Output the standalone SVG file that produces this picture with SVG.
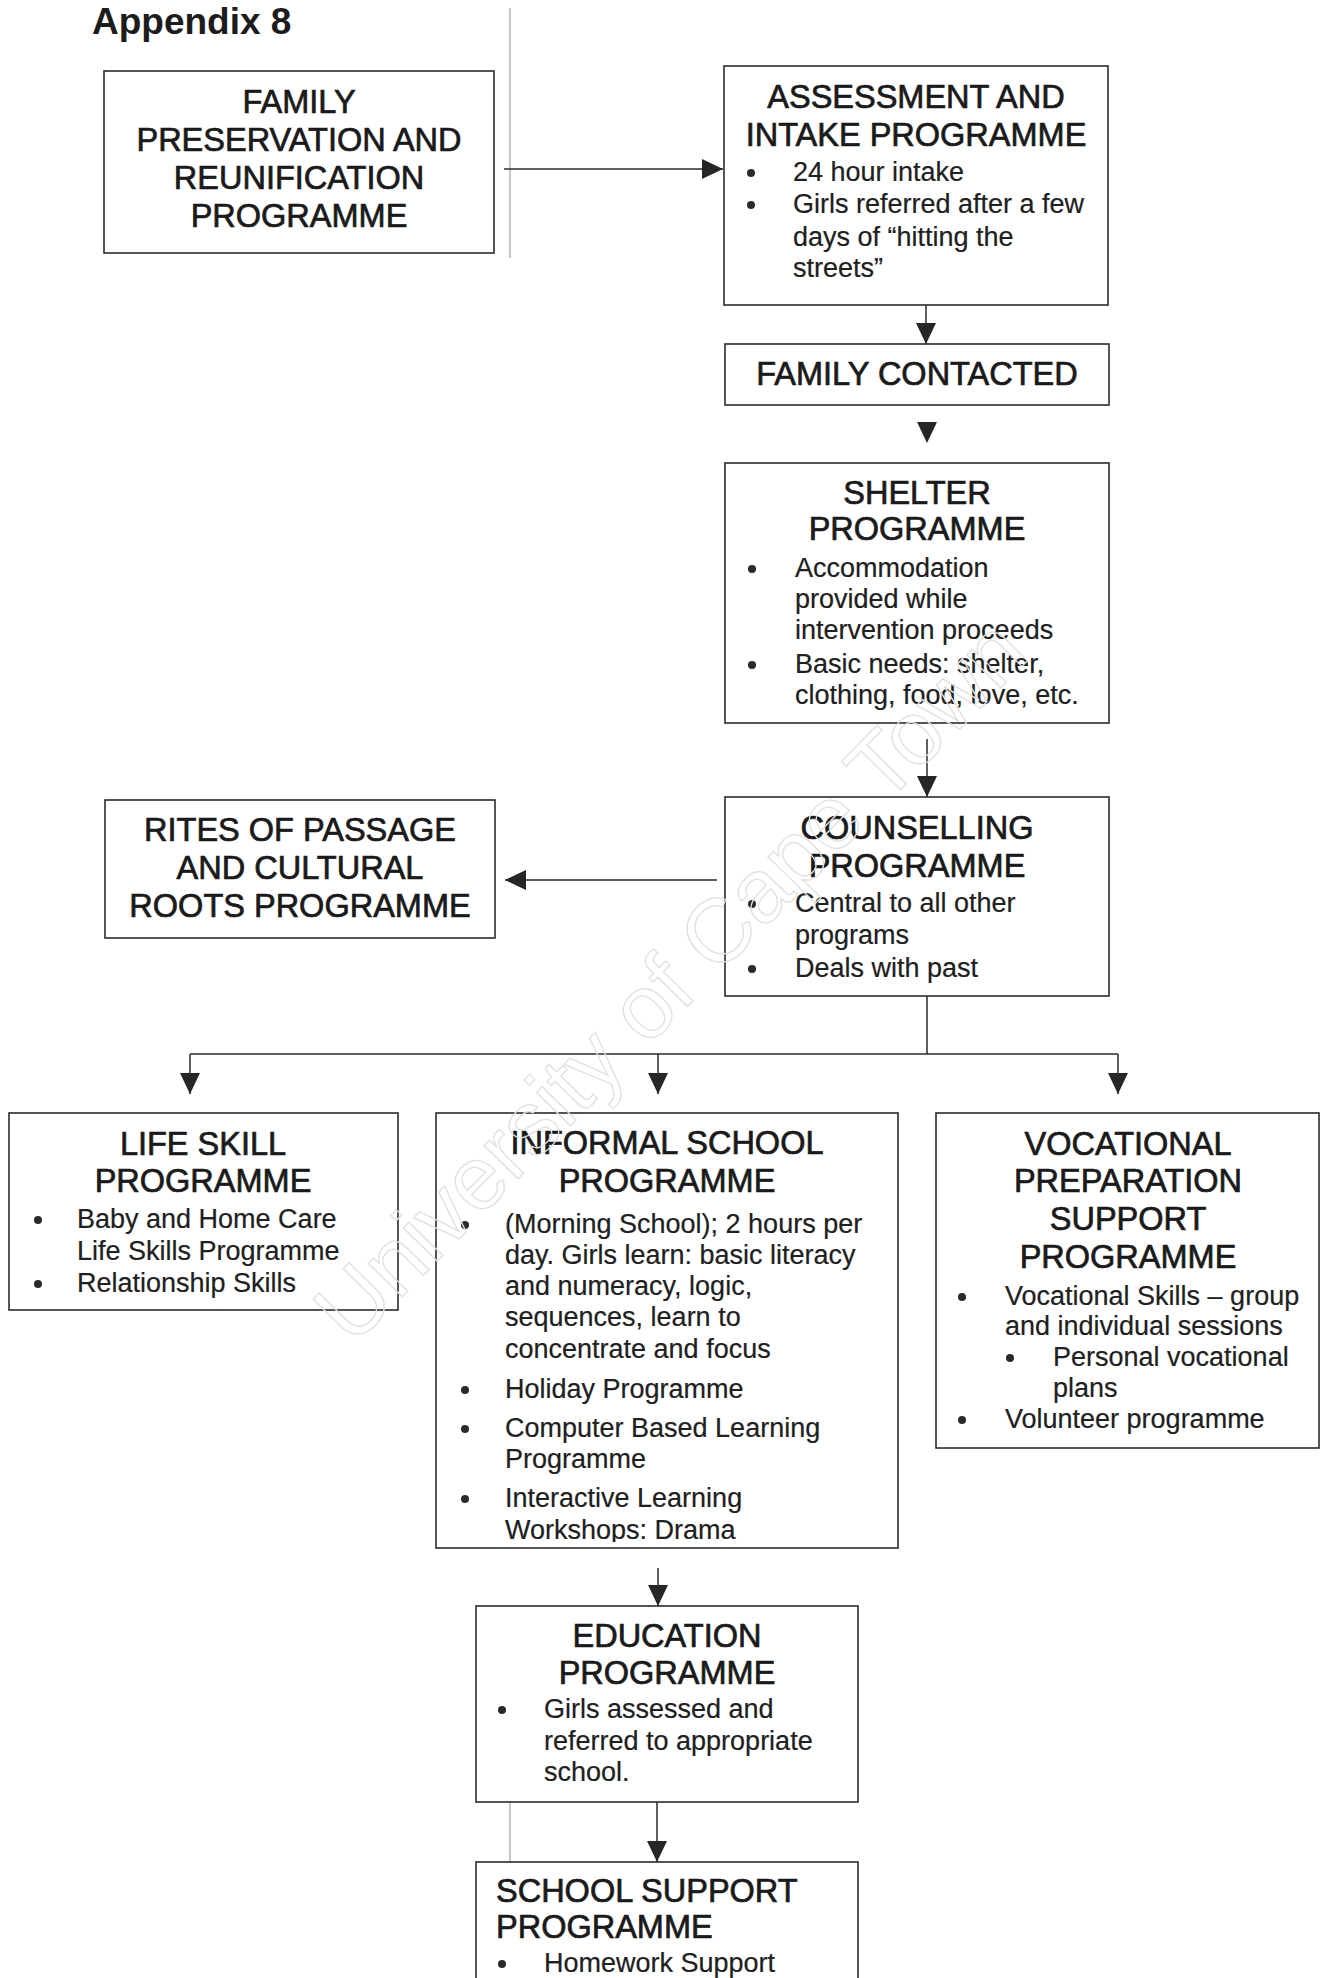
<svg xmlns="http://www.w3.org/2000/svg" width="1322" height="1978" viewBox="0 0 1322 1978">
  <defs>
    <style>
      .box { fill: #ffffff; stroke: #2b2b2b; stroke-width: 1.6; }
      .h { font-family: "Liberation Sans", Arial, sans-serif; font-size: 32.5px; fill: #1a1a1a; stroke: #1a1a1a; stroke-width: 0.7; text-anchor: middle; }
      .hl { text-anchor: start; }
      .t { font-family: "Liberation Sans", Arial, sans-serif; font-size: 27px; fill: #202020; stroke: #202020; stroke-width: 0.2; }
      .dot { fill: #2a2a2a; }
      .conn { stroke: #2b2b2b; stroke-width: 1.5; fill: none; }
      .faint { stroke: #8c8c8c; stroke-width: 1; fill: none; }
      .title { font-family: "Liberation Sans", Arial, sans-serif; font-size: 37px; font-weight: bold; fill: #1c1c1c; }
      .mark { font-family: "Liberation Sans", Arial, sans-serif; font-size: 90px; fill: none; stroke: #e0e0e0; stroke-width: 1.3; text-anchor: middle; }
    </style>
    <marker id="ah" viewBox="0 0 21 20" refX="21" refY="10" markerWidth="21" markerHeight="20" markerUnits="userSpaceOnUse" orient="auto">
      <path d="M0,0 L21,10 L0,20 Z" fill="#262626"/>
    </marker>
    <clipPath id="informal-clip">
      <rect x="436" y="1113" width="462" height="429"/>
    </clipPath>
  </defs>

  <rect width="1322" height="1978" fill="#ffffff"/>

  <text class="title" x="92" y="34">Appendix 8</text>

  <!-- thin stray rules of the page -->
  <g id="page-rules">
    <line class="faint" x1="510" y1="8" x2="510" y2="258"/>
    <line class="faint" x1="510" y1="1795" x2="510" y2="1930"/>
    <line class="faint" x1="496" y1="1930" x2="797" y2="1930"/>
  </g>

  <g id="connectors">
    <line class="conn" x1="504" y1="169" x2="723" y2="169" marker-end="url(#ah)"/>
    <line class="conn" x1="926" y1="305" x2="926" y2="344" marker-end="url(#ah)"/>
    <path d="M917,422 L937,422 L927,443 Z" fill="#262626"/>
    <line class="conn" x1="927" y1="739" x2="927" y2="797" marker-end="url(#ah)"/>
    <line class="conn" x1="717" y1="880" x2="505" y2="880" marker-end="url(#ah)"/>
    <line class="conn" x1="927" y1="996" x2="927" y2="1054"/>
    <line class="conn" x1="190" y1="1054" x2="1118" y2="1054"/>
    <line class="conn" x1="190" y1="1054" x2="190" y2="1094" marker-end="url(#ah)"/>
    <line class="conn" x1="658" y1="1054" x2="658" y2="1094" marker-end="url(#ah)"/>
    <line class="conn" x1="1118" y1="1054" x2="1118" y2="1094" marker-end="url(#ah)"/>
    <line class="conn" x1="658" y1="1568" x2="658" y2="1606" marker-end="url(#ah)"/>
    <line class="conn" x1="657" y1="1802" x2="657" y2="1862" marker-end="url(#ah)"/>
  </g>

  <g id="family-preservation">
    <rect class="box" x="104" y="71" width="390" height="182"/>
    <text class="h" x="299" y="113">FAMILY</text>
    <text class="h" x="299" y="151">PRESERVATION AND</text>
    <text class="h" x="299" y="189">REUNIFICATION</text>
    <text class="h" x="299" y="227">PROGRAMME</text>
  </g>

  <g id="assessment-intake">
    <rect class="box" x="724" y="66" width="384" height="239"/>
    <text class="h" x="916" y="108">ASSESSMENT AND</text>
    <text class="h" x="916" y="146">INTAKE PROGRAMME</text>
    <circle class="dot" cx="751" cy="173" r="4"/>
    <text class="t" x="793" y="181">24 hour intake</text>
    <circle class="dot" cx="751" cy="205" r="4"/>
    <text class="t" x="793" y="213">Girls referred after a few</text>
    <text class="t" x="793" y="246">days of “hitting the</text>
    <text class="t" x="793" y="277">streets”</text>
  </g>

  <g id="family-contacted">
    <rect class="box" x="725" y="344" width="384" height="61"/>
    <text class="h" x="917" y="385">FAMILY CONTACTED</text>
  </g>

  <g id="shelter">
    <rect class="box" x="725" y="463" width="384" height="260"/>
    <text class="h" x="917" y="504">SHELTER</text>
    <text class="h" x="917" y="540">PROGRAMME</text>
    <circle class="dot" cx="752" cy="569" r="4"/>
    <text class="t" x="795" y="577">Accommodation</text>
    <text class="t" x="795" y="608">provided while</text>
    <text class="t" x="795" y="639">intervention proceeds</text>
    <circle class="dot" cx="752" cy="665" r="4"/>
    <text class="t" x="795" y="673">Basic needs: shelter,</text>
    <text class="t" x="795" y="704">clothing, food, love, etc.</text>
  </g>

  <g id="counselling">
    <rect class="box" x="725" y="797" width="384" height="199"/>
    <text class="h" x="917" y="839">COUNSELLING</text>
    <text class="h" x="917" y="877">PROGRAMME</text>
    <circle class="dot" cx="752" cy="904" r="4"/>
    <text class="t" x="795" y="912">Central to all other</text>
    <text class="t" x="795" y="944">programs</text>
    <circle class="dot" cx="752" cy="969" r="4"/>
    <text class="t" x="795" y="977">Deals with past</text>
  </g>

  <g id="rites-of-passage">
    <rect class="box" x="105" y="800" width="390" height="138"/>
    <text class="h" x="300" y="841">RITES OF PASSAGE</text>
    <text class="h" x="300" y="879">AND CULTURAL</text>
    <text class="h" x="300" y="917">ROOTS PROGRAMME</text>
  </g>

  <g id="life-skill">
    <rect class="box" x="9" y="1113" width="389" height="197"/>
    <text class="h" x="203" y="1155">LIFE SKILL</text>
    <text class="h" x="203" y="1192">PROGRAMME</text>
    <circle class="dot" cx="38" cy="1220" r="4"/>
    <text class="t" x="77" y="1228">Baby and Home Care</text>
    <text class="t" x="77" y="1260">Life Skills Programme</text>
    <circle class="dot" cx="38" cy="1284" r="4"/>
    <text class="t" x="77" y="1292">Relationship Skills</text>
  </g>

  <g id="informal-school">
    <rect class="box" x="436" y="1113" width="462" height="435"/>
    <text class="h" x="667" y="1154">INFORMAL SCHOOL</text>
    <text class="h" x="667" y="1192">PROGRAMME</text>
    <circle class="dot" cx="465" cy="1225" r="4"/>
    <text class="t" x="505" y="1233">(Morning School); 2 hours per</text>
    <text class="t" x="505" y="1264">day. Girls learn: basic literacy</text>
    <text class="t" x="505" y="1295">and numeracy, logic,</text>
    <text class="t" x="505" y="1326">sequences, learn to</text>
    <text class="t" x="505" y="1358">concentrate and focus</text>
    <circle class="dot" cx="465" cy="1390" r="4"/>
    <text class="t" x="505" y="1398">Holiday Programme</text>
    <circle class="dot" cx="465" cy="1429" r="4"/>
    <text class="t" x="505" y="1437">Computer Based Learning</text>
    <text class="t" x="505" y="1468">Programme</text>
    <circle class="dot" cx="465" cy="1499" r="4"/>
    <text class="t" x="505" y="1507">Interactive Learning</text>
    <text class="t" x="505" y="1539" clip-path="url(#informal-clip)">Workshops: Drama</text>
  </g>

  <g id="vocational-preparation">
    <rect class="box" x="936" y="1113" width="383" height="335"/>
    <text class="h" x="1128" y="1155">VOCATIONAL</text>
    <text class="h" x="1128" y="1192">PREPARATION</text>
    <text class="h" x="1128" y="1230">SUPPORT</text>
    <text class="h" x="1128" y="1268">PROGRAMME</text>
    <circle class="dot" cx="962" cy="1297" r="4"/>
    <text class="t" x="1005" y="1305">Vocational Skills – group</text>
    <text class="t" x="1005" y="1335">and individual sessions</text>
    <circle class="dot" cx="1010" cy="1358" r="4"/>
    <text class="t" x="1053" y="1366">Personal vocational</text>
    <text class="t" x="1053" y="1397">plans</text>
    <circle class="dot" cx="962" cy="1420" r="4"/>
    <text class="t" x="1005" y="1428">Volunteer programme</text>
  </g>

  <g id="education">
    <rect class="box" x="476" y="1606" width="382" height="196"/>
    <text class="h" x="667" y="1647">EDUCATION</text>
    <text class="h" x="667" y="1684">PROGRAMME</text>
    <circle class="dot" cx="502" cy="1710" r="4"/>
    <text class="t" x="544" y="1718">Girls assessed and</text>
    <text class="t" x="544" y="1750">referred to appropriate</text>
    <text class="t" x="544" y="1781">school.</text>
  </g>

  <g id="school-support">
    <rect class="box" x="476" y="1862" width="382" height="140"/>
    <text class="h hl" x="496" y="1902">SCHOOL SUPPORT</text>
    <text class="h hl" x="496" y="1938">PROGRAMME</text>
    <circle class="dot" cx="502" cy="1964" r="4"/>
    <text class="t" x="544" y="1972">Homework Support</text>
  </g>

  <!-- faint diagonal watermark -->
  <text class="mark" x="692" y="1002" transform="rotate(-45.5 692 1002)">University of Cape Town</text>
</svg>
